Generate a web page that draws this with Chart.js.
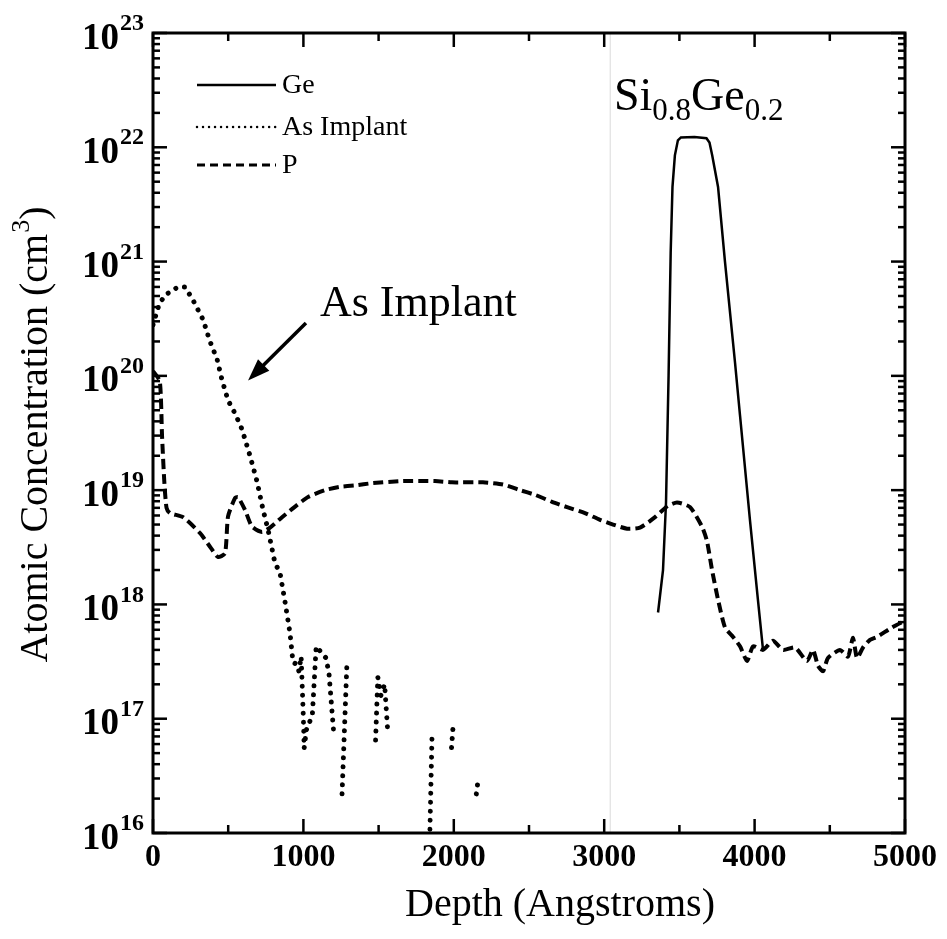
<!DOCTYPE html>
<html>
<head>
<meta charset="utf-8">
<script src="https://cdn.jsdelivr.net/npm/chart.js@4.4.0/dist/chart.umd.min.js"></script>
<style>
body{margin:0;background:#fff}
#wrap{width:947px;height:939px;position:relative}
</style>
</head>
<body>
<div id="wrap"><canvas id="c"></canvas></div>
<script>
// depth in Angstroms, concentration in cm^-3
var geDepth = [3358, 3391, 3411, 3428, 3442, 3454, 3470, 3490, 3510, 3600, 3680, 3700, 3718, 3757, 3803, 3870, 3903, 3969, 4022, 4056];
var geConc  = [8.5e17, 2.0e18, 7.8e18, 1.0e20, 1.2e21, 4.5e21, 8.5e21, 1.15e22, 1.22e22, 1.23e22, 1.2e22, 1.1e22, 8.5e21, 4.5e21, 1.0e21, 1.3e20, 4.5e19, 5.5e18, 1.1e18, 4.0e17];

var asDepth = [0, 40, 80, 166, 213, 266, 333, 379, 426, 459, 499, 545, 592, 645, 691, 731, 765, 811, 844, 878, 911, 931, 957, 970, 985, 1000, 1005, 1020, 1050, 1060, 1085, 1150, 1170, 1200, 1230,
               1257, 1290, 1320,
               1480, 1495, 1515, 1540, 1560, 1600,
               1840, 1855, 1900,
               1985, 1995, 2050,
               2150, 2160];
var asConc  = [2.8e20, 4.2e20, 5.1e20, 6.0e20, 6.0e20, 4.6e20, 3.1e20, 2.0e20, 1.4e20, 9.2e19, 6.1e19, 4.7e19, 3.4e19, 2.0e19, 1.2e19, 6.8e18, 4.5e18, 2.3e18, 1.9e18, 1.05e18, 5.6e17, 3.1e17, 3.0e17, 2.6e17, 3.5e17, 1.0e17, 5.5e16, 8e16, 1.0e17, 1.1e17, 4.3e17, 3.4e17, 2.5e17, 8e16, null,
               2.2e16, 3.2e17, null,
               6.5e16, 2.3e17, 1.6e17, 2.0e17, 8e16, null,
               9e15, 6.9e16, null,
               5.6e16, 8.5e16, null,
               2.2e16, 2.8e16];

var pDepth = [0, 45, 60, 75, 90, 113, 200, 313, 379, 432, 479, 499, 545, 565, 612, 658, 725, 778, 858, 957, 1031, 1144, 1243, 1343, 1456, 1656, 1875, 1988, 2194, 2327, 2440, 2540, 2653, 2753, 2872, 2972, 3059, 3152, 3238, 3338, 3418, 3484, 3571, 3650, 3683, 3717, 3757, 3803, 3857, 3903, 3950, 3990, 4056, 4122, 4189, 4269, 4348, 4388, 4422, 4455, 4488, 4568, 4621, 4654, 4681, 4721, 4767, 4814, 4914, 5000];
var pConc  = [1.1e20, 9e19, 3e19, 1.2e19, 7e18, 6.3e18, 5.8e18, 4.2e18, 3.2e18, 2.6e18, 2.8e18, 5.9e18, 8.5e18, 8.7e18, 6.7e18, 4.8e18, 4.3e18, 4.7e18, 5.8e18, 7.4e18, 8.7e18, 1.0e19, 1.07e19, 1.1e19, 1.15e19, 1.2e19, 1.2e19, 1.17e19, 1.17e19, 1.12e19, 1.0e19, 9.1e18, 7.9e18, 7.1e18, 6.3e18, 5.5e18, 5.0e18, 4.6e18, 4.7e18, 5.8e18, 7.2e18, 7.8e18, 7.1e18, 4.8e18, 3.6e18, 2.0e18, 1.1e18, 6.3e17, 5.2e17, 4.3e17, 3.2e17, 4.3e17, 4.0e17, 4.8e17, 4.0e17, 4.2e17, 3.2e17, 4.0e17, 2.9e17, 2.6e17, 3.4e17, 4.0e17, 3.5e17, 5.1e17, 3.4e17, 4.2e17, 4.9e17, 5.2e17, 6.3e17, 7.2e17];

var xTicks = [0, 1000, 2000, 3000, 4000, 5000];
var xMinor = [500, 1500, 2500, 3500, 4500];
var yExps = [16, 17, 18, 19, 20, 21, 22, 23];
var seriesNames = ['Ge', 'As Implant', 'P'];

var serif = '"Liberation Serif", "DejaVu Serif", serif';

function pts(xs, ys) {
    return xs.map(function (x, i) { return {x: x, y: ys[i]}; });
}

function seg(ctx, x1, y1, x2, y2) {
    ctx.beginPath(); ctx.moveTo(x1, y1); ctx.lineTo(x2, y2); ctx.stroke();
}

var decor = {
    id: 'decor',
    afterDatasetsDraw: function (chart) {
        var ctx = chart.ctx, a = chart.chartArea;
        var sx = chart.scales.x, sy = chart.scales.y;
        ctx.save();

        // faint scan line
        ctx.strokeStyle = 'rgba(0,0,0,0.15)';
        ctx.lineWidth = 1;
        var vx = sx.getPixelForValue(3040);
        seg(ctx, vx, a.top, vx, a.bottom);

        // frame
        ctx.strokeStyle = '#000';
        ctx.lineWidth = 3;
        ctx.strokeRect(a.left, a.top, a.right - a.left, a.bottom - a.top);

        // y ticks, both sides, pointing in
        ctx.lineWidth = 2.5;
        yExps.forEach(function (e) {
            var yy = sy.getPixelForValue(Math.pow(10, e));
            seg(ctx, a.left, yy, a.left + 14, yy);
            seg(ctx, a.right, yy, a.right - 14, yy);
            if (e < 23) {
                for (var k = 2; k < 10; k++) {
                    var ym = sy.getPixelForValue(k * Math.pow(10, e));
                    seg(ctx, a.left, ym, a.left + 7, ym);
                    seg(ctx, a.right, ym, a.right - 7, ym);
                }
            }
        });
        // x ticks, bottom and top
        xTicks.forEach(function (v) {
            var xx = sx.getPixelForValue(v);
            seg(ctx, xx, a.bottom, xx, a.bottom - 14);
            seg(ctx, xx, a.top, xx, a.top + 14);
        });
        xMinor.forEach(function (v) {
            var xx = sx.getPixelForValue(v);
            seg(ctx, xx, a.bottom, xx, a.bottom - 8);
            seg(ctx, xx, a.top, xx, a.top + 8);
        });

        // tick labels
        ctx.fillStyle = '#000';
        ctx.textBaseline = 'middle';
        yExps.forEach(function (e) {
            var yy = sy.getPixelForValue(Math.pow(10, e));
            ctx.font = 'bold 24px ' + serif;
            ctx.textAlign = 'right';
            var ex = String(e);
            var w = ctx.measureText(ex).width;
            ctx.fillText(ex, a.left - 9, yy - 9);
            ctx.font = 'bold 37px ' + serif;
            ctx.fillText('10', a.left - 10 - w, yy + 6);
        });
        ctx.font = 'bold 32px ' + serif;
        ctx.textAlign = 'center';
        xTicks.forEach(function (v) {
            ctx.fillText(String(v), sx.getPixelForValue(v), a.bottom + 25);
        });

        // axis titles
        ctx.font = '40px ' + serif;
        ctx.fillText('Depth (Angstroms)', 560, a.bottom + 72);
        ctx.save();
        ctx.translate(36, 435);
        ctx.rotate(-Math.PI / 2);
        ctx.textAlign = 'left';
        var t1 = 'Atomic Concentration (cm';
        var w1 = ctx.measureText(t1).width;
        ctx.font = '26px ' + serif;
        var w2 = ctx.measureText('3').width;
        ctx.font = '40px ' + serif;
        var w3 = ctx.measureText(')').width;
        var x0 = -(w1 + w2 + w3) / 2;
        ctx.fillText(t1, x0, 0);
        ctx.font = '26px ' + serif;
        ctx.fillText('3', x0 + w1 + 1, -14);
        ctx.font = '40px ' + serif;
        ctx.fillText(')', x0 + w1 + w2 + 1, 0);
        ctx.restore();

        // legend
        var ds = chart.data.datasets;
        var rows = [85, 127, 165];
        var legW = [2.5, 2.5, 3];
        var legDash = [[], [0.01, 6], [8, 5]];
        ds.forEach(function (d, i) {
            ctx.strokeStyle = '#000';
            ctx.lineWidth = legW[i];
            ctx.lineCap = i === 1 ? 'round' : 'butt';
            ctx.setLineDash(legDash[i]);
            seg(ctx, 197, rows[i], 276, rows[i]);
            ctx.setLineDash([]);
            ctx.lineCap = 'butt';
            ctx.font = '28px ' + serif;
            ctx.textAlign = 'left';
            ctx.fillText(d.label, 282, rows[i] + 1);
        });

        // "As Implant" annotation with arrow
        ctx.font = '44px ' + serif;
        ctx.textAlign = 'left';
        ctx.fillText('As Implant', sx.getPixelForValue(1110), sy.getPixelForValue(4.2e20));
        var ax1 = sx.getPixelForValue(1017), ay1 = sy.getPixelForValue(2.9e20);
        var ax2 = sx.getPixelForValue(632), ay2 = sy.getPixelForValue(9.1e19);
        var ang = Math.atan2(ay2 - ay1, ax2 - ax1);
        ctx.lineWidth = 3.5;
        seg(ctx, ax1, ay1, ax2 - 12 * Math.cos(ang), ay2 - 12 * Math.sin(ang));
        ctx.beginPath();
        ctx.moveTo(ax2, ay2);
        ctx.lineTo(ax2 - 22 * Math.cos(ang) + 8 * Math.sin(ang), ay2 - 22 * Math.sin(ang) - 8 * Math.cos(ang));
        ctx.lineTo(ax2 - 22 * Math.cos(ang) - 8 * Math.sin(ang), ay2 - 22 * Math.sin(ang) + 8 * Math.cos(ang));
        ctx.closePath();
        ctx.fill();

        // Si0.8Ge0.2 label
        var lx = sx.getPixelForValue(3065), ly = sy.getPixelForValue(2.1e22);
        ctx.textBaseline = 'alphabetic';
        var parts = [['Si', 46, 0], ['0.8', 31, 10], ['Ge', 46, 0], ['0.2', 31, 10]];
        parts.forEach(function (p) {
            ctx.font = p[1] + 'px ' + serif;
            ctx.fillText(p[0], lx, ly + p[2]);
            lx += ctx.measureText(p[0]).width;
        });

        ctx.restore();
    }
};

new Chart(document.getElementById('c'), {
    type: 'line',
    data: {
        datasets: [{
            label: seriesNames[0],
            data: pts(geDepth, geConc),
            borderColor: '#000',
            borderWidth: 2.5,
            pointRadius: 0,
            tension: 0
        }, {
            label: seriesNames[1],
            data: pts(asDepth, asConc),
            borderColor: '#000',
            borderWidth: 5,
            borderDash: [0.01, 9],
            borderCapStyle: 'round',
            pointRadius: 0,
            spanGaps: false,
            tension: 0
        }, {
            label: seriesNames[2],
            data: pts(pDepth, pConc),
            borderColor: '#000',
            borderWidth: 4,
            borderDash: [10, 5],
            pointRadius: 0,
            tension: 0.2
        }]
    },
    options: {
        responsive: true,
        maintainAspectRatio: false,
        animation: false,
        layout: {padding: {left: 153, right: 42, top: 33, bottom: 106}},
        plugins: {legend: {display: false}, tooltip: {enabled: false}},
        scales: {
            x: {type: 'linear', min: 0, max: 5000, display: false},
            y: {type: 'logarithmic', min: 1e16, max: 1e23, display: false}
        }
    },
    plugins: [decor]
});
</script>
</body>
</html>
